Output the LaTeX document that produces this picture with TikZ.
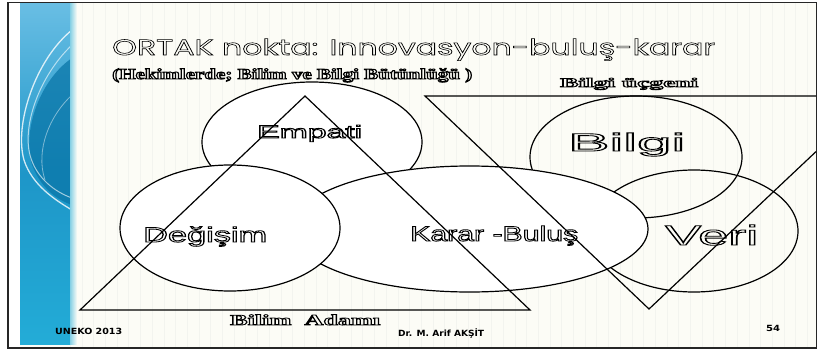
\documentclass[tikz,border=0pt]{standalone}
\usepackage{fontspec}
\setmainfont{Liberation Sans}
\newfontfamily\titlefont{Poppins}
\newfontfamily\lblfont{Liberation Sans}
\newfontfamily\serifbold{Liberation Serif}
\newfontfamily\footfont{DejaVu Sans}
% outlined (hollow) text through the PDF text render mode
\newcommand\otx[4]{\resizebox{#1}{\height}{#3\special{pdf:literal direct 1 Tr #2 w}#4\special{pdf:literal direct 0 Tr 0.4 w}}}
\newcommand\ftx[3]{\resizebox{#1}{\height}{#2#3}}
\definecolor{bgc}{RGB}{252,252,246}
\definecolor{gridh}{RGB}{226,228,222}
\definecolor{gridv}{RGB}{243,244,239}
\definecolor{stripA}{RGB}{105,190,228}
\definecolor{stripB}{RGB}{30,150,200}
\definecolor{stripC}{RGB}{35,172,215}
\definecolor{stripD}{RGB}{10,118,168}
\tikzset{
  shape line/.style={draw=black, line width=1.2pt},
  filled shape/.style={shape line, fill=white},
  otext/.style={inner sep=0pt, text=black, anchor=base west},
  ftext/.style={inner sep=0pt, text=black, anchor=base west},
}
\begin{document}
\begin{tikzpicture}[x=1pt,y=-1pt]
\useasboundingbox (0,0) rectangle (818,353);
% background
\fill[bgc] (8,2.5) rectangle (816.5,348);
\fill[white] (8,2.5) rectangle (20,348);
\draw[gridv, line width=0.5pt, xstep=11.7, ystep=1000] (70,3) grid (816,347);
\draw[gridh, line width=0.6pt, xstep=1000, ystep=11.7] (70,3) grid (816,347);
% blue strip
\shade[top color=stripA, bottom color=stripC, middle color=stripB] (20,3) rectangle (70,344);
\begin{scope}
\clip (20,3) rectangle (70,344);
\fill[stripD, opacity=0.75] (72,58) .. controls (40,80) and (22,130) .. (32,165) .. controls (42,190) and (58,200) .. (72,205) -- cycle;
\draw[white, opacity=0.8, line width=1.3pt] (72,30) .. controls (35,60) and (14,125) .. (24,160) .. controls (32,185) and (55,200) .. (72,210);
\draw[white, opacity=0.6, line width=1pt] (72,45) .. controls (40,75) and (22,125) .. (30,155) .. controls (36,178) and (55,192) .. (72,198);
\draw[white, opacity=0.45, line width=0.8pt] (72,95) .. controls (50,115) and (35,150) .. (45,180);
\end{scope}
\shade[left color=stripC!55!bgc, right color=bgc] (70,3) rectangle (77,344);
% frame
\draw[black!85, line width=1.2pt] (8,2.5) rectangle (816.5,348);
% ellipses
\draw[shape line] (636,157) ellipse [x radius=106, y radius=61];
\draw[shape line] (694,231) ellipse [x radius=104, y radius=61];
\draw[filled shape] (312,142) ellipse [x radius=110, y radius=60];
\draw[filled shape] (469.5,229) ellipse [x radius=178.5, y radius=63];
\draw[filled shape] (230,228) ellipse [x radius=110, y radius=63];
% titles
\node[otext] (title) at (112,55) {\otx{603pt}{0.55}{\fontsize{22}{24}\selectfont\titlefont}{ORTAK nokta: Innovasyon-buluş-karar}};
\node[otext] (sub) at (112,79) {\otx{360pt}{0.9}{\fontsize{15}{17}\selectfont\serifbold\bfseries}{(Hekimlerde; Bilim ve Bilgi Bütünlüğü )}};
\node[otext] (bu) at (560,87) {\otx{138pt}{0.75}{\fontsize{13}{15}\selectfont\serifbold\bfseries}{Bilgi üçgeni}};
\node[otext] (ba) at (230,325) {\otx{150pt}{0.75}{\fontsize{15}{17}\selectfont\serifbold\bfseries}{Bilim\ \ Adamı}};
% labels
\node[otext] (empati) at (257,138) {\otx{105pt}{0.8}{\fontsize{18}{20}\selectfont\lblfont}{Empati}};
\node[otext] (bilgi) at (568,151) {\otx{117pt}{0.85}{\fontsize{25}{27}\selectfont\lblfont}{Bilgi}};
\node[otext] (degisim) at (143,242) {\otx{124pt}{0.8}{\fontsize{21}{23}\selectfont\lblfont}{Değişim}};
\node[otext] (karar) at (410,241) {\otx{168pt}{0.8}{\fontsize{21}{23}\selectfont\lblfont}{Karar -Buluş}};
\node[otext] (veri) at (665,245) {\otx{93pt}{0.85}{\fontsize{28}{30}\selectfont\lblfont}{Veri}};
% triangles
\draw[shape line, line join=miter] (305,96) -- (80,310) -- (530,310) -- cycle;
\begin{scope}
\clip (8,2.5) rectangle (816,348);
\draw[shape line, line join=miter] (425,96) -- (875,96) -- (649,309) -- cycle;
\end{scope}
% footer
\node[ftext] (uneko) at (55,334) {\ftx{67pt}{\fontsize{8.5}{9}\selectfont\footfont\bfseries}{UNEKO 2013}};
\node[ftext] (dr) at (398,336) {\ftx{86pt}{\fontsize{8.5}{9}\selectfont\footfont\bfseries}{Dr. M. Arif AKŞİT}};
\node[ftext] (num) at (766,331) {\ftx{14pt}{\fontsize{8.5}{9}\selectfont\footfont\bfseries}{54}};
\end{tikzpicture}
\end{document}
